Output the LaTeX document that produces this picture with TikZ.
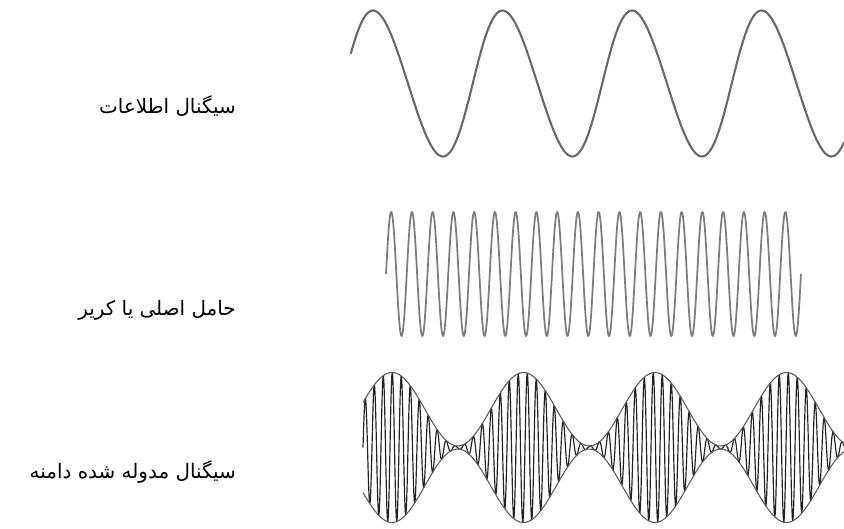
\documentclass[tikz,border=0pt]{standalone}
\usepackage{fontspec}
\newfontfamily\arabicfont[Script=Arabic]{DejaVu Sans}
\TeXXeTstate=1
\usepackage{tikz}
\definecolor{waveGray}{RGB}{105,105,105}
\definecolor{carrierGray}{RGB}{125,125,125}
\definecolor{envGray}{RGB}{90,90,90}
\definecolor{amDark}{RGB}{35,35,35}
\tikzset{
  wavelabel/.style={anchor=east, inner sep=0pt, font=\arabicfont\fontsize{17}{20}\selectfont},
  infowave/.style={draw=waveGray, line width=1.8pt, line join=round},
  carrierwave/.style={draw=carrierGray, line width=1.5pt, line join=round},
  envelope/.style={draw=envGray, line width=0.9pt},
  amwave/.style={draw=amDark, line width=1pt, line join=round}
}

\begin{document}
\begin{tikzpicture}[x=0.03cm, y=-0.03cm]
  \useasboundingbox (0,0) rectangle (844,528);
  % Labels
  \node[wavelabel] (infolabel) at (236,106) {\beginR سیگنال اطلاعات\endR};
  \node[wavelabel] (carrierlabel) at (236,310) {\beginR حامل اصلی یا کریر\endR};
  \node[wavelabel] (amlabel) at (236,472) {\beginR سیگنال مدوله شده دامنه\endR};
  % Info signal
  \draw[infowave] plot[domain=-66:1297, samples=320, variable=\t]
    ({373+0.35972*\t+2.6*(1-cos(\t))}, {83.5-73*cos(\t)});
  % Carrier
  \draw[carrierwave] plot[domain=0:7200, samples=801, variable=\t]
    ({386+0.057639*\t}, {274-62*sin(\t)});
  % Modulated signal
  \draw[amwave] plot[domain=363:844, samples=1201]
    (\x, {447.5-(1.5+36.75*(1+cos(2.7376*(\x-392))))*sin(40*mod(\x-363,9))});
  \draw[envelope] plot[domain=363:844, samples=240]
    (\x, {447.5-1.5-36.75*(1+cos(2.7376*(\x-392)))});
  \draw[envelope] plot[domain=363:844, samples=240]
    (\x, {447.5+1.5+36.75*(1+cos(2.7376*(\x-392)))});
\end{tikzpicture}
\end{document}
